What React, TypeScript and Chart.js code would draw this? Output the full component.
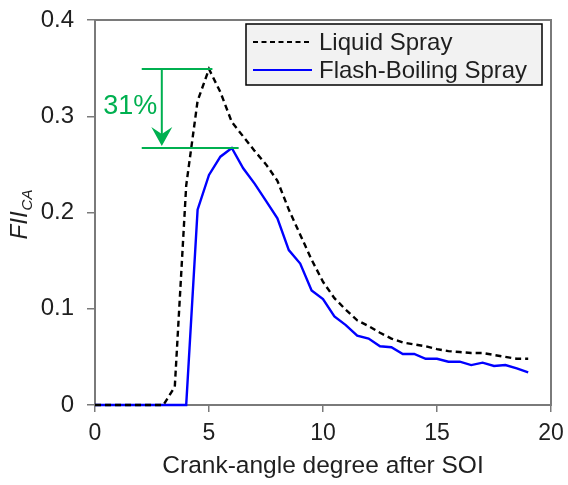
import { useEffect, useRef } from "react";
import { Chart, registerables } from "chart.js";

Chart.register(...registerables);

// Crank angle (deg after start of injection)
const crankAngle = [
  0, 0.5, 1, 1.5, 2, 2.5, 3, 3.5, 4, 4.5, 5, 5.5, 6, 6.5, 7, 7.5, 8, 8.5, 9, 9.5,
  10, 10.5, 11, 11.5, 12, 12.5, 13, 13.5, 14, 14.5, 15, 15.5, 16, 16.5, 17, 17.5,
  18, 18.5, 19,
];

const liquidSpray = [
  0, 0, 0, 0, 0, 0, 0, 0.019, 0.228, 0.316, 0.349, 0.325, 0.294, 0.279, 0.264,
  0.25, 0.233, 0.203, 0.177, 0.151, 0.128, 0.111, 0.099, 0.088, 0.082, 0.075,
  0.069, 0.065, 0.063, 0.061, 0.058, 0.056, 0.055, 0.054, 0.054, 0.052, 0.05,
  0.048, 0.048,
];

const flashBoilingSpray = [
  0, 0, 0, 0, 0, 0, 0, 0, 0, 0.203, 0.239, 0.258, 0.267, 0.246, 0.23, 0.212,
  0.194, 0.161, 0.147, 0.119, 0.11, 0.092, 0.083, 0.072, 0.069, 0.061, 0.06,
  0.053, 0.053, 0.048, 0.048, 0.045, 0.045, 0.0415, 0.044, 0.0405, 0.0415,
  0.038, 0.034,
];

const xTicks = [0, 5, 10, 15, 20];
const yTicks = [0, 0.1, 0.2, 0.3, 0.4];

const seriesNames = ["Liquid Spray", "Flash-Boiling Spray"];
const reductionLabel = "31%";
const xTitle = "Crank-angle degree after SOI";
const yTitleMain = "FII";
const yTitleSub = "CA";

const FONT = '"Liberation Sans", Arial, sans-serif';
const GREEN = "#00b050";
const AXIS_GREY = "#7a7a7a";
const TEXT = "#1f1f1f";

// Drop the label-overflow padding so the plot area follows layout.padding exactly
const noScalePadding = (s: any) => {
  s.paddingTop = 0;
  s.paddingBottom = 0;
  s.paddingLeft = 0;
  s.paddingRight = 0;
};

// Grey frame around the plot area (under the data lines)
const framePlugin = {
  id: "frame",
  beforeDatasetsDraw(chart: any) {
    const { ctx, chartArea: a } = chart;
    ctx.save();
    ctx.strokeStyle = AXIS_GREY;
    ctx.lineWidth = 2;
    ctx.strokeRect(a.left, a.top, a.right - a.left, a.bottom - a.top);
    ctx.restore();
  },
};

// Legend box in the upper-right corner of the plot
const legendBoxPlugin = {
  id: "legendBox",
  afterDraw(chart: any) {
    const { ctx, chartArea: a } = chart;
    const ds = chart.data.datasets;
    const boxL = a.right - 305;
    const boxT = a.top + 4;
    const boxW = 296;
    const boxH = 61;
    ctx.save();
    ctx.fillStyle = "#f2f2f2";
    ctx.fillRect(boxL, boxT, boxW, boxH);
    ctx.strokeStyle = "#000";
    ctx.lineWidth = 1.5;
    ctx.strokeRect(boxL, boxT, boxW, boxH);
    const rows = [boxT + 18, boxT + 46];
    ds.forEach((d: any, i: number) => {
      const y = rows[i];
      ctx.beginPath();
      ctx.strokeStyle = d.borderColor;
      ctx.lineWidth = 1.8;
      ctx.setLineDash(d.borderDash && d.borderDash.length ? [5, 3.5] : []);
      ctx.moveTo(boxL + 7, y);
      ctx.lineTo(boxL + 66, y);
      ctx.stroke();
      ctx.setLineDash([]);
      ctx.fillStyle = TEXT;
      ctx.font = `24px ${FONT}`;
      ctx.textBaseline = "middle";
      ctx.textAlign = "left";
      ctx.fillText(d.label, boxL + 73, y + 1);
    });
    ctx.restore();
  },
};

// Peak markers with the reduction arrow
const peakArrowPlugin = {
  id: "peakArrow",
  afterDatasetsDraw(chart: any) {
    const { ctx, scales } = chart;
    const xs = scales.x;
    const ys = scales.y;
    const topPeak = Math.max(...liquidSpray);
    const lowPeak = Math.max(...flashBoilingSpray);
    const yTop = ys.getPixelForValue(topPeak);
    const yLow = ys.getPixelForValue(lowPeak);
    const xStart = xs.getPixelForValue(2.05);
    const xTopEnd = xs.getPixelForValue(5.15);
    const xLowEnd = xs.getPixelForValue(6.3);
    const xArrow = xs.getPixelForValue(2.93);
    ctx.save();
    ctx.strokeStyle = GREEN;
    ctx.fillStyle = GREEN;
    ctx.lineWidth = 2;
    ctx.beginPath();
    ctx.moveTo(xStart, yTop);
    ctx.lineTo(xTopEnd, yTop);
    ctx.moveTo(xStart, yLow);
    ctx.lineTo(xLowEnd, yLow);
    ctx.moveTo(xArrow, yTop);
    ctx.lineTo(xArrow, yLow - 10);
    ctx.stroke();
    // arrow head
    const tipY = yLow - 2;
    ctx.beginPath();
    ctx.moveTo(xArrow, tipY);
    ctx.lineTo(xArrow - 10.5, tipY - 19);
    ctx.lineTo(xArrow, tipY - 12);
    ctx.lineTo(xArrow + 10.5, tipY - 19);
    ctx.closePath();
    ctx.fill();
    // label
    ctx.font = `27px ${FONT}`;
    ctx.textAlign = "left";
    ctx.textBaseline = "alphabetic";
    ctx.fillText(reductionLabel, xs.getPixelForValue(0.36), ys.getPixelForValue(0.302));
    ctx.restore();
  },
};

// Rotated y-axis title with subscript
const yTitlePlugin = {
  id: "yTitle",
  afterDraw(chart: any) {
    const { ctx, chartArea: a } = chart;
    ctx.save();
    ctx.fillStyle = TEXT;
    ctx.font = `italic 24px ${FONT}`;
    const wMain = ctx.measureText(yTitleMain).width;
    ctx.font = `italic 15px ${FONT}`;
    const wSub = ctx.measureText(yTitleSub).width;
    const total = wMain + wSub + 1;
    const cy = (a.top + a.bottom) / 2 + 2;
    ctx.translate(27, cy + total / 2);
    ctx.rotate(-Math.PI / 2);
    ctx.textBaseline = "alphabetic";
    ctx.textAlign = "left";
    ctx.font = `italic 24px ${FONT}`;
    ctx.fillText(yTitleMain, 0, 0);
    ctx.font = `italic 15px ${FONT}`;
    ctx.fillText(yTitleSub, wMain + 1, 5);
    ctx.restore();
  },
};

export default function App() {
  const canvasRef = useRef<HTMLCanvasElement | null>(null);

  useEffect(() => {
    if (!canvasRef.current) return;
    const chart = new Chart(canvasRef.current, {
      type: "line",
      data: {
        datasets: [
          {
            label: seriesNames[0],
            data: crankAngle.map((x, i) => ({ x, y: liquidSpray[i] })),
            borderColor: "#000000",
            borderWidth: 2.4,
            borderDash: [6, 4],
            pointRadius: 0,
            tension: 0,
            fill: false,
            clip: 4,
          },
          {
            label: seriesNames[1],
            data: crankAngle.map((x, i) => ({ x, y: flashBoilingSpray[i] })),
            borderColor: "#0000ff",
            borderWidth: 2.4,
            pointRadius: 0,
            tension: 0,
            fill: false,
            clip: 4,
          },
        ],
      },
      options: {
        animation: false,
        responsive: false,
        maintainAspectRatio: false,
        layout: { padding: { left: 0, right: 17, top: 20, bottom: 0 } },
        plugins: {
          legend: { display: false },
          tooltip: { enabled: false },
        },
        scales: {
          x: {
            type: "linear",
            min: 0,
            max: 20,
            afterBuildTicks: (s: any) => {
              s.ticks = xTicks.map((v) => ({ value: v }));
            },
            afterFit: (s: any) => {
              s.height = 80;
              noScalePadding(s);
            },
            ticks: {
              font: { family: FONT, size: 23 },
              color: TEXT,
              padding: 8,
              maxRotation: 0,
              autoSkip: false,
            },
            grid: {
              drawOnChartArea: false,
              drawTicks: true,
              tickLength: 7,
              color: AXIS_GREY,
              lineWidth: 1.5,
            },
            border: { display: false },
            title: {
              display: true,
              text: xTitle,
              font: { family: FONT, size: 24.5 },
              color: TEXT,
              padding: { top: 0, bottom: 4 },
            },
          },
          y: {
            type: "linear",
            min: 0,
            max: 0.4,
            afterBuildTicks: (s: any) => {
              s.ticks = yTicks.map((v) => ({ value: v }));
            },
            afterFit: (s: any) => {
              s.width = 95;
              noScalePadding(s);
            },
            ticks: {
              font: { family: FONT, size: 24 },
              color: TEXT,
              padding: 13,
            },
            grid: {
              drawOnChartArea: false,
              drawTicks: true,
              tickLength: 8,
              color: AXIS_GREY,
              lineWidth: 1.5,
            },
            border: { display: false },
          },
        },
      },
      plugins: [framePlugin, peakArrowPlugin, legendBoxPlugin, yTitlePlugin],
    });
    return () => chart.destroy();
  }, []);

  return (
    <div style={{ position: "fixed", left: 0, top: 0, width: 568, height: 485, background: "#fff" }}>
      <canvas ref={canvasRef} width={568} height={485} style={{ display: "block" }} />
    </div>
  );
}
